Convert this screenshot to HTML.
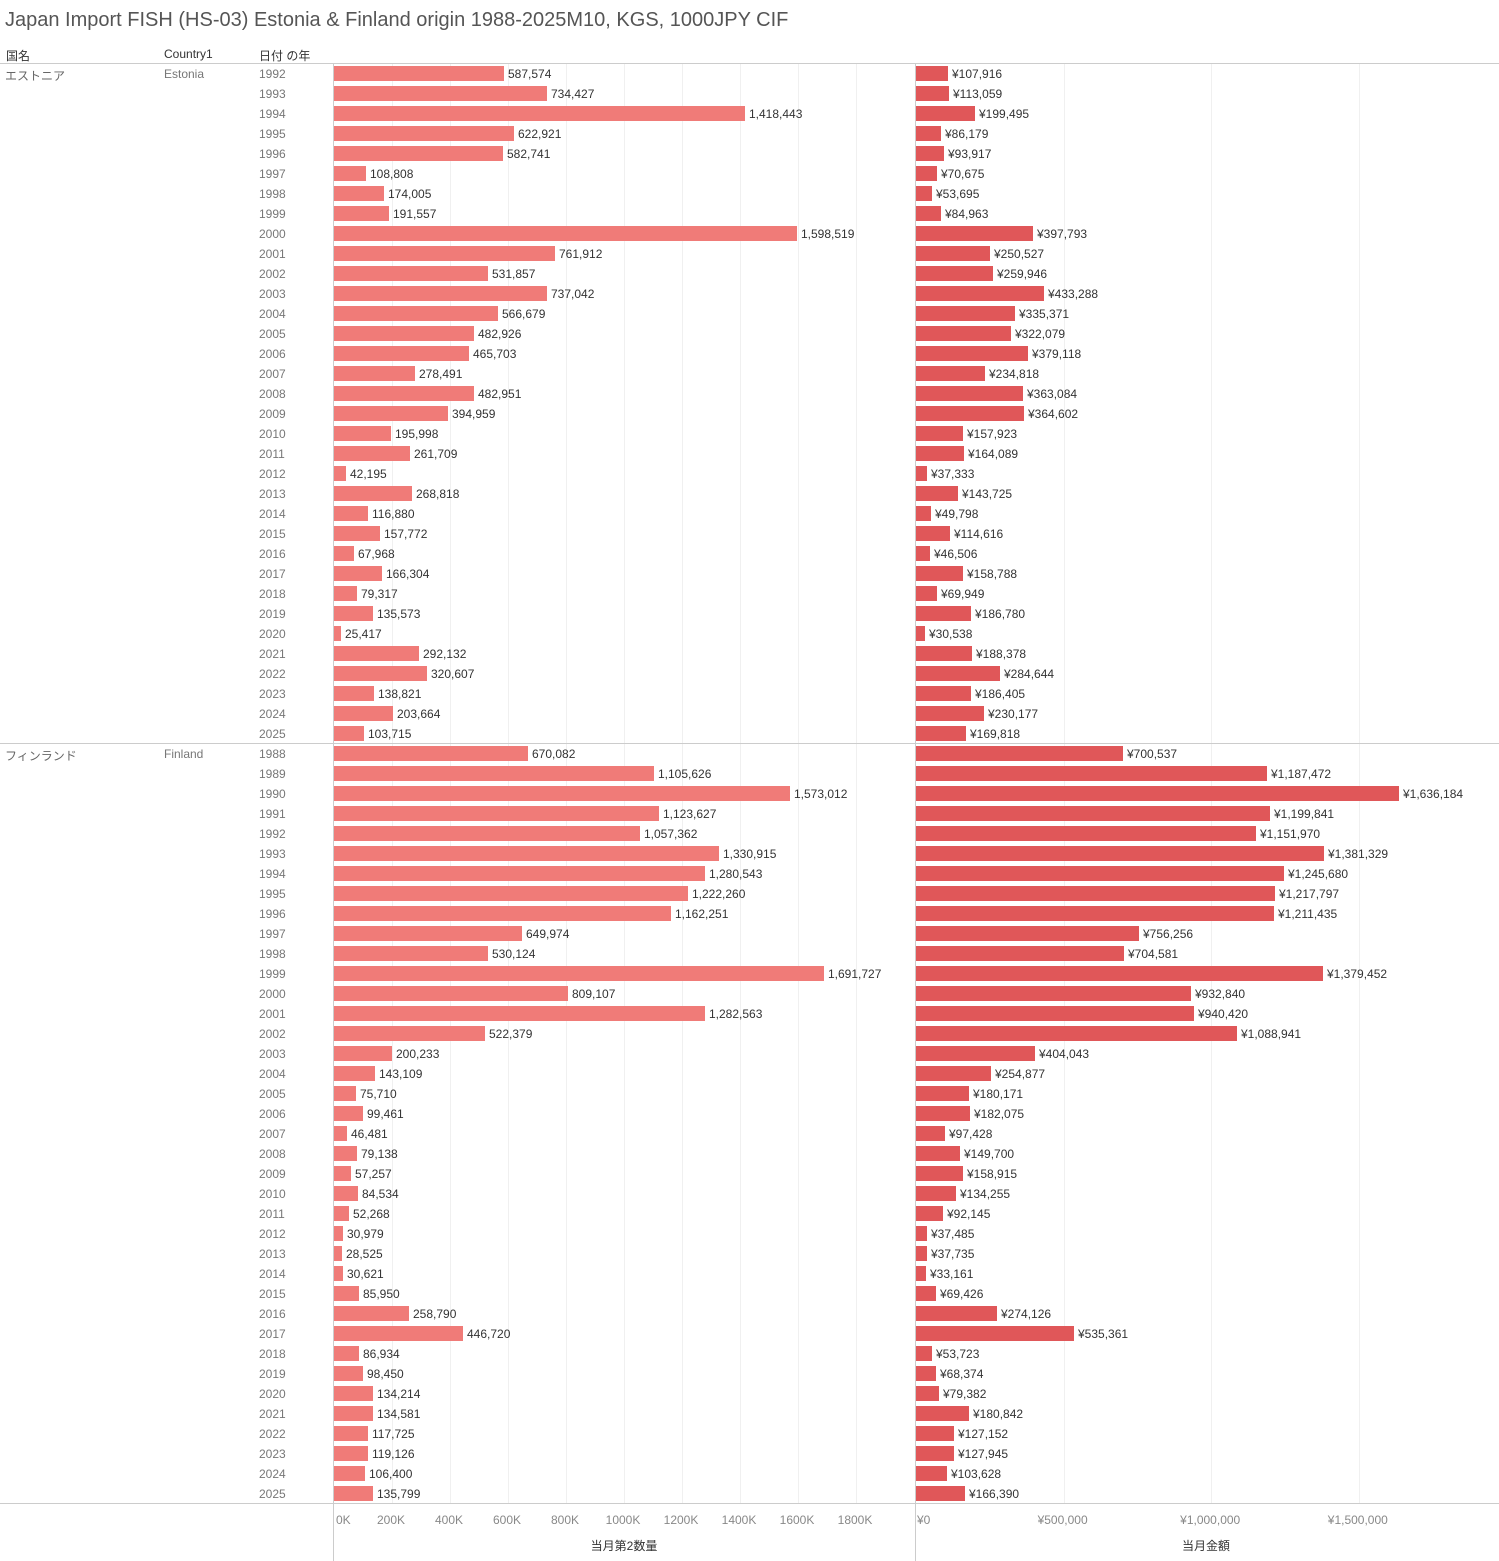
<!DOCTYPE html>
<html><head><meta charset="utf-8"><style>
body{margin:0;background:#fff;font-family:"Liberation Sans","Noto Sans CJK JP",sans-serif;}
#c{position:relative;width:1499px;height:1561px;overflow:hidden;}
.a{position:absolute;white-space:nowrap;}
</style></head><body><div id="c"></div>
<script>
const c=document.getElementById('c');
function el(h){c.insertAdjacentHTML('beforeend',h);}
const est=[[1992,587574,107916],[1993,734427,113059],[1994,1418443,199495],[1995,622921,86179],[1996,582741,93917],[1997,108808,70675],[1998,174005,53695],[1999,191557,84963],[2000,1598519,397793],[2001,761912,250527],[2002,531857,259946],[2003,737042,433288],[2004,566679,335371],[2005,482926,322079],[2006,465703,379118],[2007,278491,234818],[2008,482951,363084],[2009,394959,364602],[2010,195998,157923],[2011,261709,164089],[2012,42195,37333],[2013,268818,143725],[2014,116880,49798],[2015,157772,114616],[2016,67968,46506],[2017,166304,158788],[2018,79317,69949],[2019,135573,186780],[2020,25417,30538],[2021,292132,188378],[2022,320607,284644],[2023,138821,186405],[2024,203664,230177],[2025,103715,169818]];
const fin=[[1988,670082,700537],[1989,1105626,1187472],[1990,1573012,1636184],[1991,1123627,1199841],[1992,1057362,1151970],[1993,1330915,1381329],[1994,1280543,1245680],[1995,1222260,1217797],[1996,1162251,1211435],[1997,649974,756256],[1998,530124,704581],[1999,1691727,1379452],[2000,809107,932840],[2001,1282563,940420],[2002,522379,1088941],[2003,200233,404043],[2004,143109,254877],[2005,75710,180171],[2006,99461,182075],[2007,46481,97428],[2008,79138,149700],[2009,57257,158915],[2010,84534,134255],[2011,52268,92145],[2012,30979,37485],[2013,28525,37735],[2014,30621,33161],[2015,85950,69426],[2016,258790,274126],[2017,446720,535361],[2018,86934,53723],[2019,98450,68374],[2020,134214,79382],[2021,134581,180842],[2022,117725,127152],[2023,119126,127945],[2024,106400,103628],[2025,135799,166390]];
const L0=334,LS=0.0002896,R0=916,RS=0.0002952;
for(let k=1;k<=9;k++){el(`<div class="a" style="left:${Math.round(L0+58*k)}px;top:63px;width:1px;height:1440px;background:#f0f0f0"></div>`);}
for(let k=1;k<=3;k++){el(`<div class="a" style="left:${Math.round(R0+147.6*k)}px;top:63px;width:1px;height:1440px;background:#f0f0f0"></div>`);}
el(`<div class="a" style="left:5px;top:9px;font-size:20px;color:#555">Japan Import FISH (HS-03) Estonia &amp; Finland origin 1988-2025M10, KGS, 1000JPY CIF</div>`);
el(`<div class="a" style="left:6px;top:47px;font-size:12px;color:#333">国名</div><div class="a" style="left:164px;top:47px;font-size:12px;color:#333">Country1</div><div class="a" style="left:259px;top:47px;font-size:12px;color:#333">日付 の年</div>`);
function fmt(n){return n.toLocaleString('en-US');}
function rows(data,y0,jp,en){
 el(`<div class="a" style="left:5px;top:${y0+4}px;font-size:12px;color:#666">${jp}</div><div class="a" style="left:164px;top:${y0+4}px;font-size:12px;color:#777">${en}</div>`);
 data.forEach((d,i)=>{const y=y0+i*20;
  el(`<div class="a" style="left:259px;top:${y+4}px;font-size:12px;color:#777">${d[0]}</div>`);
  const w1=Math.max(1,Math.round(d[1]*LS)),w2=Math.max(1,Math.round(d[2]*RS));
  el(`<div class="a" style="left:${L0}px;top:${y+3}px;width:${w1}px;height:15px;background:#f07b78"></div><div class="a" style="left:${L0+w1+4}px;top:${y+4}px;font-size:12px;color:#333">${fmt(d[1])}</div>`);
  el(`<div class="a" style="left:${R0}px;top:${y+3}px;width:${w2}px;height:15px;background:#e05759"></div><div class="a" style="left:${R0+w2+4}px;top:${y+4}px;font-size:12px;color:#333">¥${fmt(d[2])}</div>`);
 });
}
rows(est,63,'エストニア','Estonia');
rows(fin,743,'フィンランド','Finland');
[63,743,1503].forEach(y=>el(`<div class="a" style="left:0;top:${y}px;width:1499px;height:1px;background:#ccc"></div>`));
[333,915].forEach(x=>el(`<div class="a" style="left:${x}px;top:63px;width:1px;height:1498px;background:#ccc"></div>`));
const lt=['0K','200K','400K','600K','800K','1000K','1200K','1400K','1600K','1800K'];
lt.forEach((t,k)=>{const x=L0+58*k;el(k==0?`<div class="a" style="left:336px;top:1513px;font-size:12px;color:#888">${t}</div>`:`<div class="a" style="left:${x-31}px;width:60px;text-align:center;top:1513px;font-size:12px;color:#888">${t}</div>`);});
['¥0','¥500,000','¥1,000,000','¥1,500,000'].forEach((t,k)=>{const x=R0+147.6*k;el(k==0?`<div class="a" style="left:917px;top:1513px;font-size:12px;color:#888">${t}</div>`:`<div class="a" style="left:${x-41}px;width:80px;text-align:center;top:1513px;font-size:12px;color:#888">${t}</div>`);});
el(`<div class="a" style="left:574px;width:100px;text-align:center;top:1537px;font-size:12px;color:#333">当月第2数量</div><div class="a" style="left:1156px;width:100px;text-align:center;top:1537px;font-size:12px;color:#333">当月金額</div>`);
</script></body></html>
